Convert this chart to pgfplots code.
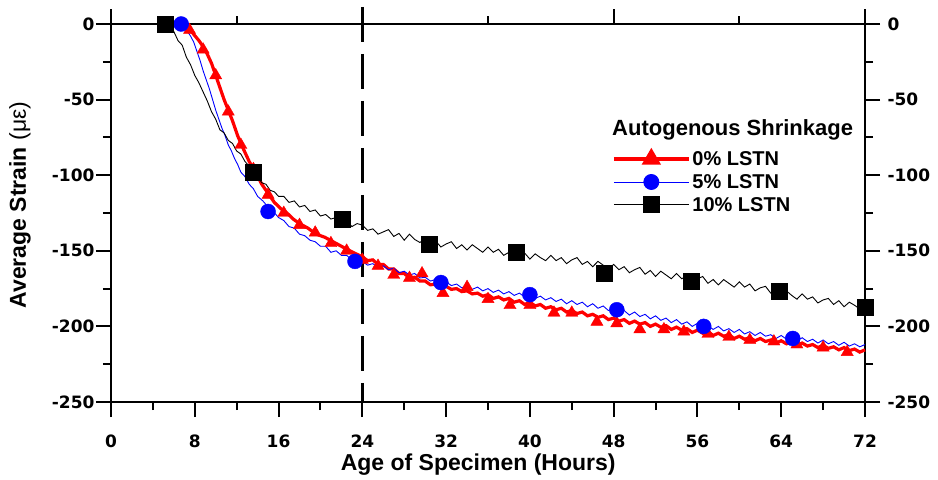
\documentclass[border=0pt]{standalone}
\usepackage{pgfplots}
\pgfplotsset{compat=1.18}
\usepackage{fontspec}
\setmainfont{Liberation Sans}
\newfontfamily\tickfont{DejaVu Sans}
\begin{document}
\begin{tikzpicture}
\useasboundingbox (-111bp,-78bp) rectangle (827bp,402bp);
\begin{axis}[
  at={(0,0)}, anchor=south west,
  width=754bp, height=378bp, scale only axis,
  xmin=0, xmax=72, ymin=-250, ymax=0,
  clip=false,
  axis line style={line width=2.2bp},
  tick style={line width=2bp, black},
  major tick length=15bp, minor tick length=8bp,
  tick align=outside,
  xtick={0,8,...,72}, xticklabels={0,8,16,24,32,40,48,56,64,72},
  minor xtick={4,12,...,68},
  xtick pos=left,
  ytick={-250,-200,...,0}, yticklabels={-250,-200,-150,-100,-50,0},
  minor ytick={-225,-175,...,-25},
  ytick pos=both, yticklabel pos=left,
  ticklabel style={font=\tickfont\bfseries\fontsize{17bp}{19bp}\selectfont},
  xticklabel style={yshift=-14bp},
  yticklabel style={xshift=2bp},
  xlabel={Age of Specimen (Hours)},
  ylabel={Average Strain {\mdseries(με)}},
  label style={font=\bfseries\fontsize{23bp}{25bp}\selectfont},
  xlabel style={at={(axis description cs:0.487,0)}, anchor=center, yshift=-63bp},
  ylabel style={at={(axis description cs:-0.1207,0.521)}, anchor=center},
  legend image code/.code={
    \draw[#1] (0bp,0bp) -- (75bp,0bp);
    \draw[#1] plot coordinates {(37.5bp,0bp)};
  },
  legend style={at={(rel axis cs:0.6645,0.669)}, anchor=north west, draw=none, fill=none,
    font=\bfseries\fontsize{20bp}{22bp}\selectfont, row sep=3.5bp, inner sep=0bp},
  legend cell align=left,
]
\addlegendimage{red, line width=3.2bp, mark=triangle*, mark size=8bp, mark options={solid}}
\addlegendentry{0\% LSTN}
\addlegendimage{blue, line width=0.9bp, mark=*, mark size=7.5bp}
\addlegendentry{5\% LSTN}
\addlegendimage{black, line width=0.9bp, mark=square*, mark size=8bp}
\addlegendentry{10\% LSTN}

% red line (0% LSTN)
\addplot[red, line width=3.2bp, forget plot] coordinates {
(6.6,0) (7.2,-2) (7.8,-6) (8.4,-11) (9.0,-17) (9.6,-26) (10.2,-38) (10.8,-50) (11.2,-57) (11.6,-64)
(12.1,-74) (12.6,-82) (13.2,-91) (13.8,-98) (14.4,-106) (15.0,-112) (15.6,-118) (16.2,-122) (16.8,-125)
(17.4,-129) (18.0,-132) (18.8,-135) (19.6,-139) (20.4,-141) (21.2,-144) (22.0,-147) (22.8,-150) (23.4,-152)
(24,-154) (24.5,-156.5) (25,-156) (25.5,-159) (26,-159) (26.5,-162) (27,-162) (27.5,-165) (28,-165) (28.5,-168)
(29,-167.5) (29.5,-170) (30,-170) (30.5,-172.5) (31,-172) (31.5,-174) (32,-173.5) (32.5,-175.5) (33,-175)
(33.5,-177) (34,-176.5) (34.5,-178.5) (35,-178) (35.5,-180) (36,-179) (36.5,-181.5) (37,-180.5) (37.5,-182.5)
(38,-181.5) (38.5,-184) (39,-183) (39.5,-185.5) (40,-184) (40.5,-186.5) (41,-185.5) (41.5,-188) (42,-187)
(42.5,-189) (43,-188) (43.5,-190.5) (44,-189.5) (44.5,-191.5) (45,-190.5) (45.5,-193) (46,-192) (46.5,-194)
(47,-193) (47.5,-195.5) (48,-194.5) (48.5,-196.5) (49,-195.5) (49.5,-198) (50,-196.5) (50.5,-198.5) (51,-197.5)
(51.5,-200) (52,-198.5) (52.5,-200.5) (53,-199.5) (53.5,-202) (54,-200.5) (54.5,-202.5) (55,-201.5) (55.5,-204)
(56,-202.5) (56.5,-204.5) (57,-203.5) (57.5,-206) (58,-204.5) (58.5,-206.5) (59,-205.5) (59.5,-208) (60,-206.5)
(60.5,-208.5) (61,-207.5) (61.5,-209.5) (62,-208) (62.5,-210) (63,-209) (63.5,-211) (64,-209.5) (64.5,-211.5)
(65,-210.5) (65.5,-212.5) (66,-211) (66.5,-213) (67,-212) (67.5,-214) (68,-212.5) (68.5,-214.5) (69,-213.5)
(69.5,-215.5) (70,-214) (70.5,-216) (71,-215) (71.5,-217) (72,-215.5)
};
% blue line (5% LSTN)
\addplot[blue, line width=0.9bp, forget plot] coordinates {
(6.7,0) (7.0,-2) (7.3,-5) (7.6,-8) (7.9,-12) (8.2,-18) (8.5,-24) (8.8,-31) (9.1,-37) (9.4,-43) (9.7,-50)
(10.0,-57) (10.3,-63) (10.6,-69) (10.9,-74) (11.2,-80) (11.5,-84) (11.8,-89) (12.1,-93) (12.4,-98) (12.8,-101)
(13.2,-106) (13.6,-109) (14.0,-114) (14.5,-117) (15.0,-121) (15.5,-124) (16.0,-128) (16.5,-130) (17.0,-134)
(17.5,-135) (18.0,-139) (18.5,-140) (19.0,-143) (19.5,-144) (20.0,-147) (20.5,-147) (21.0,-151) (21.5,-150)
(22.0,-153) (22.5,-153) (23.0,-156) (23.5,-155)
(24,-157) (24.5,-159.5) (25,-158.5) (25.5,-161) (26,-160) (26.5,-162.5) (27,-161.5) (27.5,-164.5) (28,-163.5)
(28.5,-166) (29,-165) (29.5,-168) (30,-167.5) (30.5,-170) (31,-169) (31.5,-171.5) (32,-170.5) (32.5,-173)
(33,-172) (33.5,-174.5) (34,-173) (34.5,-175.5) (35,-174) (35.5,-176.5) (36,-175) (36.5,-177.5) (37,-176)
(37.5,-178.5) (38,-177) (38.5,-179.5) (39,-178) (39.5,-180.5) (40,-179) (40.5,-181.5) (41,-180) (41.5,-182.5)
(42,-181) (42.5,-183.5) (43,-182) (43.5,-185) (44,-183) (44.5,-185.5) (45,-184) (45.5,-187) (46,-185) (46.5,-188)
(47,-186.5) (47.5,-189.5) (48,-188) (48.5,-190.5) (49,-189.5) (49.5,-192.5) (50,-190.5) (50.5,-193.5) (51,-192)
(51.5,-195) (52,-193) (52.5,-196) (53,-194.5) (53.5,-197.5) (54,-195.5) (54.5,-198.5) (55,-197) (55.5,-200)
(56,-198) (56.5,-201) (57,-199.5) (57.5,-202) (58,-200) (58.5,-203) (59,-201.5) (59.5,-204) (60,-202) (60.5,-205)
(61,-203.5) (61.5,-206) (62,-204) (62.5,-206.5) (63,-205.5) (63.5,-208) (64,-206) (64.5,-208.5) (65,-207)
(65.5,-209.5) (66,-207.5) (66.5,-210) (67,-208.5) (67.5,-211) (68,-209) (68.5,-211.5) (69,-210) (69.5,-212.5)
(70,-210.5) (70.5,-213) (71,-211.5) (71.5,-213.5) (72,-212)
};
% black line (10% LSTN)
\addplot[black, line width=0.9bp, forget plot] coordinates {
(5.2,0) (5.6,-3) (6.0,-5) (6.4,-11) (6.8,-14) (7.2,-22) (7.6,-27) (8.0,-34) (8.4,-39) (8.8,-45) (9.2,-51)
(9.6,-58) (10.0,-63) (10.4,-70) (10.8,-72) (11.2,-77) (11.6,-79) (12.0,-84) (12.4,-86) (12.8,-91) (13.2,-94)
(13.6,-99) (14.0,-101) (14.4,-105) (14.8,-106) (15.2,-110) (15.6,-111) (16.0,-114) (16.5,-114) (17.0,-118)
(17.5,-117) (18.0,-121) (18.5,-120) (19.0,-124) (19.5,-123) (20.0,-127) (20.5,-126) (21.0,-129) (21.5,-128)
(22.0,-132) (22.5,-130) (23.0,-134) (23.5,-132)
(24,-133) (24.5,-136.5) (25,-135.5) (25.5,-139) (26,-137.5) (26.5,-136) (27,-140.5) (27.5,-138.5) (28,-143)
(28.5,-139) (29,-142.5) (29.5,-144.5) (30,-142) (30.5,-145.5) (31,-143.5) (31.5,-147.5) (32,-145.5) (32.5,-144)
(33,-148.5) (33.5,-146) (34,-149.5) (34.5,-146) (35,-148.5) (35.5,-151) (36,-147.5) (36.5,-151) (37,-149)
(37.5,-153) (38,-151) (38.5,-149.5) (39,-154) (39.5,-151.5) (40,-155.5) (40.5,-152) (41,-154.5) (41.5,-156.5)
(42,-153) (42.5,-156.5) (43,-154.5) (43.5,-158.5) (44,-156) (44.5,-154.5) (45,-159) (45.5,-157) (46,-160.5)
(46.5,-157) (47,-159.5) (47.5,-162) (48,-159) (48.5,-162.5) (49,-160.5) (49.5,-164.5) (50,-162.5) (50.5,-161)
(51,-165.5) (51.5,-163) (52,-167) (52.5,-163.5) (53,-166) (53.5,-168.5) (54,-165) (54.5,-168.5) (55,-166.5)
(55.5,-170.5) (56,-168.5) (56.5,-167) (57,-171.5) (57.5,-169) (58,-172.5) (58.5,-169) (59,-171.5) (59.5,-174)
(60,-170.5) (60.5,-174) (61,-172) (61.5,-176.5) (62,-174.5) (62.5,-173.5) (63,-178) (63.5,-176) (64,-180)
(64.5,-176.5) (65,-179.5) (65.5,-182) (66,-178.5) (66.5,-182) (67,-180.5) (67.5,-184.5) (68,-182.5) (68.5,-181.5)
(69,-185.5) (69.5,-183) (70,-187) (70.5,-184) (71,-186) (71.5,-188.5) (72,-185.5)
};
% markers
\addplot[only marks, mark=triangle*, mark size=7bp, color=red, forget plot] coordinates {
(7.5,-4) (8.8,-17) (10,-34) (11.2,-58) (12.4,-80) (13.6,-96) (15,-113) (16.5,-125) (18,-133) (19.5,-138)
(21,-145) (22.5,-150) (24,-156) (25.5,-160) (27,-166) (28.5,-168) (29.7,-165) (31.7,-178) (34,-174)
(36,-182) (38.1,-186) (40,-186) (42.3,-191) (44,-191) (46.4,-197) (48.3,-198) (50.5,-202) (52.8,-202)
(54.7,-203.5) (57,-205) (59,-207) (61,-209) (63.3,-210) (65.5,-212) (68,-214) (70.3,-217)
};
\addplot[only marks, mark=*, mark size=7.5bp, color=blue, forget plot] coordinates {
(6.7,0) (15.0,-124) (23.3,-157) (31.5,-171) (40.0,-179) (48.3,-189) (56.6,-200) (65.1,-208)
};
\addplot[only marks, mark=square*, mark size=8bp, color=black, forget plot] coordinates {
(5.2,0) (13.6,-98) (22.1,-129) (30.4,-145.5) (38.7,-151) (47.1,-165) (55.4,-170) (63.8,-176.6) (72,-187)
};
% top ticks
\draw[line width=2bp] (axis cs:0,0) -- ([yshift=15bp]axis cs:0,0);
\draw[line width=2bp] (axis cs:48,0) -- ([yshift=15bp]axis cs:48,0);
\draw[line width=2bp] (axis cs:72,0) -- ([yshift=15bp]axis cs:72,0);
\draw[line width=2bp] (axis cs:12,0) -- ([yshift=8bp]axis cs:12,0);
\draw[line width=2bp] (axis cs:36,0) -- ([yshift=8bp]axis cs:36,0);
\draw[line width=2bp] (axis cs:60,0) -- ([yshift=8bp]axis cs:60,0);
% dashed line at 24 h
\draw[line width=2.4bp, dash pattern=on 35bp off 12bp] ([yshift=17bp]axis cs:24,0) -- (axis cs:24,-250);
% legend title
\node[anchor=west, inner sep=0pt, font=\bfseries\fontsize{22bp}{24bp}\selectfont] at (rel axis cs:0.6645,0.72) {Autogenous Shrinkage};
\end{axis}
\begin{axis}[
  at={(0,0)}, anchor=south west,
  width=754bp, height=378bp, scale only axis,
  xmin=0, xmax=72, ymin=-250, ymax=0,
  hide x axis, axis y line*=right, axis line style={draw=none},
  tick style={draw=none},
  ytick={-250,-200,...,0}, yticklabels={-250,-200,-150,-100,-50,0},
  yticklabel style={font=\tickfont\bfseries\fontsize{17bp}{19bp}\selectfont, anchor=west, xshift=19bp},
]
\end{axis}
\end{tikzpicture}
\end{document}
